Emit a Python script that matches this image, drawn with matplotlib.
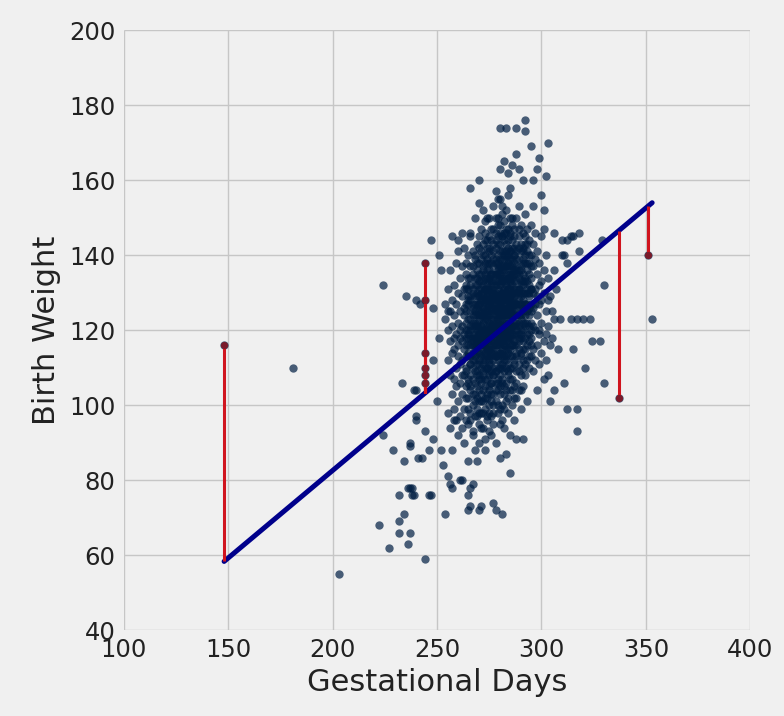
import numpy as np
import matplotlib
matplotlib.use("Agg")
import matplotlib.pyplot as plt

# sparse points around the edges (gestational days, birth weight)
outer_days = [181, 203, 224,
              233, 239, 240, 224, 229, 234, 237, 241, 237, 232, 239, 246, 234, 232, 222, 232, 237, 236, 227, 244,
              257, 262, 266, 247, 251, 252, 235, 240, 242, 248, 254, 254, 255, 260,
              292, 280, 283, 288, 292, 303, 295, 288, 299, 282, 286, 280, 284, 289, 298, 302, 270, 266, 291, 296,
              285, 300, 270, 279, 296, 301, 274,
              301, 306, 315, 318, 310, 329, 318, 310, 330, 309, 314, 317, 320, 323, 353, 324, 328, 315, 321, 311,
              330, 312, 317, 317, 314, 312, 311, 312, 306, 307, 303, 306, 308, 299, 306,
              240, 240, 237, 243, 246, 244, 248, 252, 253, 255, 257, 262, 266, 265, 271, 266, 277, 285, 236, 238,
              238, 247, 269, 273, 280, 283, 288, 291, 256, 254, 265, 270, 278, 281, 261, 267, 248, 251, 250, 258]
outer_weights = [110, 55, 132,
                 106, 104, 97, 92, 88, 85, 90, 86, 78, 76, 76, 76, 71, 69, 68, 66, 66, 63, 62, 59,
                 145, 146, 146, 144, 140, 136, 129, 128, 127, 126, 127, 123, 125, 144,
                 176, 174, 174, 174, 173, 170, 169, 167, 166, 165, 164, 163, 162, 163, 163, 161, 160, 158, 160, 160,
                 158, 156, 154, 155, 153, 152, 150,
                 147, 146, 145, 146, 144, 144, 141, 140, 132, 123, 123, 123, 123, 123, 123, 117, 117, 115, 110, 106,
                 106, 99, 99, 93, 145, 144, 140, 138, 136, 131, 128, 123, 115, 120, 104,
                 104, 96, 89, 86, 88, 93, 91, 88, 84, 81, 78, 80, 78, 76, 73, 73, 74, 82, 78, 78,
                 76, 76, 85, 88, 86, 87, 91, 91, 79, 71, 72, 72, 72, 71, 80, 79, 112, 118, 101, 96]

# cloud body, one list of weights per day
core_days = list(range(255, 306))
core_weights = [
    [112, 120, 98, 131],
    [108, 125, 117, 94, 136],
    [121, 103, 114, 128, 88],
    [115, 99, 132, 107, 124, 118],
    [110, 127, 96, 119, 138, 105],
    [122, 113, 101, 130, 92, 116, 141],
    [106, 125, 118, 97, 134, 111, 120],
    [117, 129, 103, 121, 94, 137, 112, 108],
    [124, 115, 99, 131, 108, 142, 119, 126, 90],
    [113, 127, 105, 120, 96, 135, 118, 110, 132],
    [119, 102, 128, 114, 140, 107, 123, 95, 116, 131, 85],
    [125, 111, 134, 104, 118, 121, 98, 129, 145, 113, 108],
    [116, 130, 107, 122, 100, 137, 119, 112, 126, 93, 141, 117],
    [121, 109, 132, 115, 124, 103, 139, 118, 127, 97, 113, 150, 88],
    [118, 126, 111, 134, 105, 122, 129, 99, 143, 116, 120, 108, 136],
    [123, 114, 131, 107, 119, 138, 101, 127, 112, 145, 117, 125, 95, 133, 90],
    [120, 128, 110, 135, 116, 103, 124, 141, 113, 130, 98, 121, 147, 107],
    [126, 115, 133, 108, 122, 140, 118, 101, 129, 112, 136, 94, 124, 119, 152],
    [117, 131, 123, 105, 138, 114, 127, 99, 120, 144, 110, 134, 125, 91, 116, 149],
    [129, 113, 121, 136, 107, 125, 142, 118, 102, 132, 115, 139, 96, 123, 110, 128],
    [122, 134, 111, 127, 119, 145, 104, 130, 116, 138, 98, 125, 113, 150, 108, 120, 93, 141],
    [125, 117, 132, 109, 128, 140, 114, 121, 103, 135, 119, 147, 111, 126, 97, 131, 106],
    [119, 130, 115, 137, 123, 108, 143, 126, 112, 133, 100, 121, 139, 117, 128, 95, 153, 110],
    [127, 121, 135, 113, 118, 146, 106, 129, 124, 138, 101, 116, 132, 142, 109, 120, 90, 157, 125],
    [123, 131, 116, 140, 110, 127, 135, 119, 104, 145, 128, 113, 137, 98, 122, 150, 107, 133, 118],
    [129, 118, 136, 124, 111, 143, 120, 132, 105, 127, 139, 114, 148, 99, 125, 134, 116, 155, 108, 121],
    [121, 134, 126, 113, 141, 118, 130, 107, 137, 123, 145, 110, 128, 100, 133, 119, 151, 115, 96],
    [128, 116, 139, 122, 131, 109, 144, 125, 118, 136, 103, 129, 149, 113, 124, 141, 94, 120, 133],
    [124, 137, 119, 130, 112, 146, 127, 121, 135, 106, 140, 117, 152, 126, 101, 132, 115, 143],
    [131, 120, 138, 125, 114, 142, 128, 108, 134, 122, 147, 117, 129, 98, 139, 111, 156, 126],
    [126, 135, 118, 141, 123, 110, 132, 129, 145, 115, 137, 104, 125, 150, 120, 92, 133],
    [132, 121, 139, 127, 113, 144, 118, 130, 136, 107, 124, 148, 116, 134, 100, 128],
    [125, 138, 119, 131, 142, 112, 127, 135, 105, 147, 121, 140, 116, 129, 96],
    [130, 122, 137, 116, 143, 127, 109, 133, 139, 120, 150, 113, 126, 102],
    [124, 136, 118, 131, 145, 111, 128, 139, 104, 122, 134, 153, 115],
    [133, 120, 141, 127, 114, 137, 124, 148, 108, 130, 118, 99],
    [128, 139, 117, 133, 122, 146, 110, 135, 125, 142, 105],
    [121, 134, 127, 143, 115, 130, 138, 108, 124, 151],
    [136, 125, 119, 141, 130, 112, 133, 147, 101],
    [129, 117, 138, 124, 144, 110, 132, 121],
    [134, 122, 140, 127, 113, 148, 118, 131],
    [126, 137, 115, 130, 143, 109, 121],
    [131, 120, 139, 112, 127, 146],
    [124, 135, 116, 129, 104, 141],
    [138, 119, 127, 111, 132],
    [122, 133, 114, 128, 145],
    [117, 130, 107, 136],
    [125, 112, 140, 119],
    [121, 134, 108],
    [129, 116, 101],
    [118, 125],
]

# more births in the busiest days
dense_days = list(range(264, 296))
dense_weights = [
    [122, 109, 131, 116, 125, 102, 138],
    [127, 113, 120, 134, 106, 118, 129, 99],
    [116, 128, 105, 123, 137, 111, 120, 132, 96],
    [124, 110, 131, 118, 103, 127, 135, 114, 121, 92],
    [112, 129, 119, 134, 106, 125, 116, 140, 101, 122],
    [127, 114, 121, 132, 102, 117, 138, 109, 124, 130, 97],
    [116, 129, 108, 124, 135, 120, 111, 142, 104, 127, 119, 98],
    [125, 117, 133, 106, 121, 139, 114, 128, 101, 118, 131, 94],
    [119, 130, 111, 126, 104, 137, 116, 123, 143, 109, 128, 98, 132],
    [128, 112, 135, 120, 107, 124, 140, 116, 131, 102, 119, 146, 113],
    [118, 131, 124, 110, 138, 127, 103, 120, 144, 115, 129, 97, 134],
    [127, 115, 136, 121, 109, 131, 118, 142, 105, 124, 133, 112, 100, 128],
    [120, 133, 113, 128, 138, 106, 123, 117, 144, 129, 101, 135, 115, 92],
    [131, 114, 124, 141, 108, 127, 120, 135, 103, 130, 147, 116, 122, 98],
    [116, 133, 122, 129, 109, 139, 126, 113, 144, 119, 104, 135, 130, 150],
    [129, 112, 138, 121, 125, 106, 132, 143, 117, 124, 100, 136, 114, 148],
    [121, 135, 114, 128, 141, 110, 130, 123, 117, 146, 103, 137, 126, 95],
    [130, 117, 124, 139, 111, 133, 126, 145, 120, 106, 128, 136, 114, 153],
    [119, 134, 127, 112, 140, 121, 130, 105, 137, 124, 146, 116, 131, 99],
    [129, 116, 141, 122, 133, 110, 128, 137, 119, 104, 147, 125, 113],
    [124, 137, 115, 130, 120, 144, 109, 135, 126, 118, 140, 102, 131],
    [131, 119, 128, 139, 113, 124, 146, 121, 134, 107, 127, 141],
    [121, 135, 126, 116, 142, 130, 110, 137, 124, 119, 150, 104],
    [133, 122, 117, 128, 145, 111, 136, 124, 140, 102, 130],
    [124, 136, 119, 131, 114, 141, 127, 106, 135, 121],
    [130, 117, 127, 142, 121, 135, 109, 131, 147, 119],
    [123, 136, 129, 113, 143, 126, 119, 132, 104],
    [132, 120, 138, 126, 115, 130, 141, 112],
    [127, 140, 118, 133, 122, 145, 111],
    [122, 131, 138, 116, 127, 143],
    [135, 126, 119, 140, 130, 113],
    [125, 137, 120, 131, 116],
]

# points whose residuals are drawn
resid_days = [148, 244, 244, 244, 244, 244, 244, 337, 351]
resid_weights = [116, 138, 128, 114, 110, 108, 106, 102, 140]

# least squares line
slope = 0.4666
intercept = -10.75

days = list(outer_days) + list(resid_days)
weights = list(outer_weights) + list(resid_weights)
for d, ws in list(zip(core_days, core_weights)) + list(zip(dense_days, dense_weights)):
    days += [d] * len(ws)
    weights += ws
days = np.array(days)
weights = np.array(weights)

plt.style.use('fivethirtyeight')
plt.rcParams['font.family'] = ['DejaVu Sans']

fig = plt.figure(figsize=(7.84, 7.16), dpi=100)
fig.patch.set_facecolor('#f0f0f0')
ax = fig.add_axes([0.158, 0.120, 0.799, 0.838])
ax.set_facecolor('#f0f0f0')

ax.scatter(days, weights, s=36, color=(0.0, 30 / 256, 66 / 256), alpha=0.7, lw=0, zorder=2)

line_x = np.array([days.min(), days.max()])
ax.plot(line_x, slope * line_x + intercept, color='#00008b', lw=3.6, zorder=3,
        solid_capstyle='round')

for x, y in zip(resid_days, resid_weights):
    fit = slope * x + intercept
    ax.plot([x, x], [y, fit], color='#d0141e', lw=2.2, zorder=4)
    ax.scatter([x], [y], s=26, color='#7a1a2a', lw=0, zorder=4)

ax.set_xlim(100, 400)
ax.set_ylim(40, 200)
ax.set_xticks(range(100, 401, 50))
ax.set_yticks(range(40, 201, 20))
ax.tick_params(labelsize=17.5, pad=6, length=0, colors='#222222')
ax.grid(True, color='#c6c6c6', lw=1.0)
ax.set_axisbelow(True)
for s in ax.spines.values():
    s.set_visible(False)

ax.set_xlabel('Gestational Days', fontsize=22, color='#222222', labelpad=4)
ax.set_ylabel('Birth Weight', fontsize=22, color='#222222', labelpad=6)

fig.savefig('out.png', dpi=100, facecolor=fig.get_facecolor())
